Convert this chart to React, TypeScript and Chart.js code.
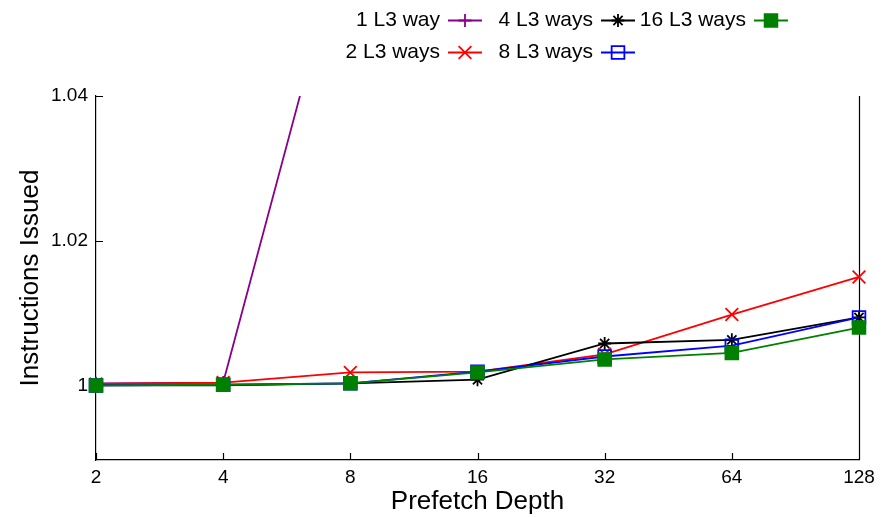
import React, { useEffect, useRef } from 'react';
import { Chart, registerables } from 'chart.js';

Chart.register(...registerables);

// ---- data ----
const categories = ['2', '4', '8', '16', '32', '64', '128'];
const way1 = [1.0003, 1.0004, 1.066, 1.09, 1.12, 1.15, 1.18];
const ways2 = [1.0002, 1.0004, 1.0018, 1.0019, 1.0043, 1.0098, 1.015];
const ways4 = [1.0, 1.0, 1.0003, 1.0008, 1.0058, 1.0063, 1.0094];
const ways8 = [1.0, 1.0001, 1.0003, 1.0019, 1.004, 1.0055, 1.0094];
const ways16 = [1.0, 1.0001, 1.0003, 1.0018, 1.0036, 1.0045, 1.008];
const yTickValues = [1, 1.02, 1.04];
const yTickLabels = ['1', '1.02', '1.04'];
const seriesNames = ['1 L3 way', '2 L3 ways', '4 L3 ways', '8 L3 ways', '16 L3 ways'];
const xTitle = 'Prefetch Depth';
const yTitle = 'Instructions Issued';

const FONT = "'Liberation Sans', Arial, Helvetica, sans-serif";

type Sty = { color: string; style: string; r: number; fill: string };
const styles: Sty[] = [
  { color: '#8b008b', style: 'cross', r: 6.5, fill: 'transparent' },
  { color: '#ff0000', style: 'crossRot', r: 9, fill: 'transparent' },
  { color: '#000000', style: 'star', r: 6.5, fill: 'transparent' },
  { color: '#0000ff', style: 'rect', r: 9, fill: 'rgba(0,0,0,0)' },
  { color: '#008000', style: 'rect', r: 9, fill: '#008000' },
];
const seriesData = [way1, ways2, ways4, ways8, ways16];

function drawMarker(ctx: CanvasRenderingContext2D, s: Sty, x: number, y: number) {
  const r = s.r;
  ctx.beginPath();
  if (s.style === 'rect') {
    const h = r * Math.SQRT1_2;
    ctx.rect(x - h, y - h, 2 * h, 2 * h);
    if (s.fill !== 'transparent' && s.fill !== 'rgba(0,0,0,0)') {
      ctx.fillStyle = s.fill;
      ctx.fill();
    }
    ctx.stroke();
    return;
  }
  if (s.style === 'cross' || s.style === 'star') {
    ctx.moveTo(x - r, y); ctx.lineTo(x + r, y);
    ctx.moveTo(x, y - r); ctx.lineTo(x, y + r);
  }
  if (s.style === 'crossRot' || s.style === 'star') {
    const d = r * Math.SQRT1_2;
    ctx.moveTo(x - d, y - d); ctx.lineTo(x + d, y + d);
    ctx.moveTo(x - d, y + d); ctx.lineTo(x + d, y - d);
  }
  ctx.stroke();
}

const legendTextRight = [440, 593, 746];
const legendRowY = [20.5, 52.5];

const decorPlugin = {
  id: 'decor',
  beforeDatasetsDraw(chart: any) {
    const { ctx, chartArea: a, scales } = chart;
    ctx.save();
    ctx.strokeStyle = '#000';
    ctx.lineWidth = 1.2;
    ctx.beginPath();
    const rx = Math.round(a.right) + 0.5;
    ctx.moveTo(rx, a.top);
    ctx.lineTo(rx, a.bottom);
    yTickValues.forEach((v) => {
      const y = Math.round(scales.y.getPixelForValue(v)) + 0.5;
      ctx.moveTo(a.left, y);
      ctx.lineTo(a.left + 7, y);
    });
    categories.forEach((_, i) => {
      const x = Math.round(scales.x.getPixelForValue(i)) + 0.5;
      ctx.moveTo(x, a.bottom);
      ctx.lineTo(x, a.bottom - 7);
    });
    ctx.stroke();
    ctx.restore();
  },
  afterDraw(chart: any) {
    const { ctx } = chart;
    ctx.save();
    ctx.font = `21px ${FONT}`;
    ctx.textAlign = 'right';
    ctx.textBaseline = 'middle';
    seriesNames.forEach((name, i) => {
      const col = Math.floor(i / 2);
      const row = i % 2;
      const tx = legendTextRight[col];
      const y = legendRowY[row];
      ctx.fillStyle = '#000';
      ctx.fillText(name, tx, y);
      const s = styles[i];
      ctx.strokeStyle = s.color;
      ctx.lineWidth = 1.8;
      ctx.beginPath();
      ctx.moveTo(tx + 8, y);
      ctx.lineTo(tx + 42, y);
      ctx.stroke();
      drawMarker(ctx, s, tx + 25, y);
    });
    ctx.restore();
  },
};

export default function App() {
  const ref = useRef<HTMLCanvasElement>(null);
  useEffect(() => {
    const datasets = seriesNames.map((name, i) => ({
      label: name,
      data: seriesData[i],
      borderColor: styles[i].color,
      backgroundColor: styles[i].fill,
      borderWidth: 1.8,
      pointStyle: styles[i].style as any,
      pointRadius: styles[i].r,
      pointHoverRadius: styles[i].r,
      pointBorderWidth: 1.8,
      pointBorderColor: styles[i].color,
      pointBackgroundColor: styles[i].fill,
      tension: 0,
      fill: false,
      order: seriesNames.length - i,
    }));
    const chart = new Chart(ref.current as HTMLCanvasElement, {
      type: 'line',
      data: { labels: categories, datasets },
      plugins: [decorPlugin],
      options: {
        animation: false,
        responsive: false,
        events: [],
        layout: { padding: { top: 96, right: 32, left: 0, bottom: 0 } },
        plugins: { legend: { display: false }, tooltip: { enabled: false } },
        scales: {
          x: {
            type: 'category',
            offset: false,
            grid: { display: false, drawTicks: false },
            border: { display: true, color: '#000', width: 1.2 },
            ticks: { color: '#000', padding: 6, font: { family: FONT, size: 19 }, maxRotation: 0, autoSkip: false },
            title: { display: true, text: xTitle, color: '#000', font: { family: FONT, size: 26 }, padding: { top: 0, bottom: 0 } },
            afterFit: (s: any) => { s.height = 57; },
          },
          y: {
            type: 'linear',
            min: 0.9897,
            max: 1.04,
            grid: { display: false, drawTicks: false },
            border: { display: true, color: '#000', width: 1.2 },
            ticks: {
              color: '#000',
              padding: 8,
              font: { family: FONT, size: 19 },
              callback: (v: any) => {
                const idx = yTickValues.findIndex((t) => Math.abs(t - Number(v)) < 1e-9);
                return idx >= 0 ? yTickLabels[idx] : '';
              },
            },
            afterBuildTicks: (s: any) => { s.ticks = yTickValues.map((v) => ({ value: v })); },
            title: { display: true, text: yTitle, color: '#000', font: { family: FONT, size: 26 }, padding: { top: 15, bottom: 0 } },
            afterFit: (s: any) => { s.width = 96; },
          },
        },
      } as any,
    });
    return () => chart.destroy();
  }, []);
  return (
    <div style={{ position: 'absolute', left: 0, top: 0, width: 891, height: 517 }}>
      <canvas ref={ref} width={891} height={517} style={{ display: 'block' }} />
    </div>
  );
}
